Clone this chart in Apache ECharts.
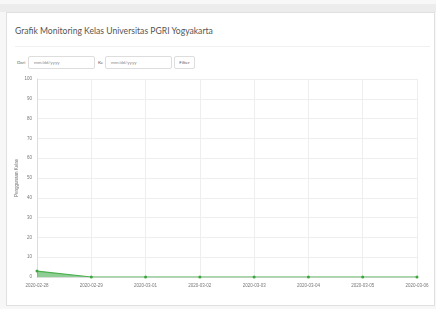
<!DOCTYPE html>
<html>
<head>
<meta charset="utf-8">
<script src="https://cdn.jsdelivr.net/npm/echarts@6/dist/echarts.min.js"></script>
<style>
html,body{margin:0;padding:0;width:436px;height:309px;overflow:hidden;background:#f7f7f7;font-family:Lato,"Open Sans",sans-serif;}
#top{position:absolute;left:0;top:4px;width:436px;height:8px;background:#ececec;}
#card{position:absolute;left:6px;top:12px;width:429px;height:294px;background:#fff;border:1px solid #e0e0e0;box-sizing:border-box;}
#title{position:absolute;left:15px;top:26px;font-size:8.6px;color:#555;white-space:nowrap;}
#sep{position:absolute;left:15px;top:46px;width:415px;height:1px;background:#f0f0f0;}
.lbl{position:absolute;font-size:4.5px;color:#666;top:60px;}
.inp{position:absolute;top:56px;height:13px;border:1px solid #ddd;box-sizing:border-box;border-radius:2px;font-size:4.5px;color:#888;padding-left:5px;line-height:11px;background:#fff;}
.btn{position:absolute;top:56px;height:13px;border:1px solid #ddd;box-sizing:border-box;border-radius:2px;font-size:4.5px;color:#555;line-height:11px;text-align:center;background:#fff;}
#chart{position:absolute;left:0;top:0;width:436px;height:309px;}
</style>
</head>
<body>
<div id="top"></div>
<div id="card"></div>
<div id="title">Grafik Monitoring Kelas Universitas PGRI Yogyakarta</div>
<div id="sep"></div>
<div class="lbl" style="left:17px;">Dari</div>
<div class="inp" style="left:28px;width:67px;">mm/dd/yyyy</div>
<div class="lbl" style="left:98px;">Ke</div>
<div class="inp" style="left:105px;width:67px;">mm/dd/yyyy</div>
<div class="btn" style="left:174px;width:21px;">Filter</div>
<div id="chart"></div>
<script>
var categories = ["2020-02-28","2020-02-29","2020-03-01","2020-03-02","2020-03-03","2020-03-04","2020-03-05","2020-03-06"];
var usage = [3,0,0,0,0,0,0,0];
var yTicks = {min:0,max:100,interval:10};
var yName = "Penggunaan Kelas";

var chart = echarts.init(document.getElementById('chart'), null, {renderer:'canvas'});
chart.setOption({
  animation:false,
  backgroundColor:'transparent',
  grid:{left:37,right:19,top:79,bottom:32,containLabel:false,outerBoundsMode:'none'},
  xAxis:{
    type:'category',
    data:categories,
    boundaryGap:false,
    axisLine:{lineStyle:{color:'#ddd'}},
    axisTick:{show:false},
    axisLabel:{fontSize:4.5,color:'#777',margin:6,interval:0},
    splitLine:{show:true,lineStyle:{color:'#eee'}}
  },
  yAxis:{
    type:'value',
    min:yTicks.min,max:yTicks.max,interval:yTicks.interval,
    name:yName,
    nameLocation:'middle',
    nameGap:18,
    nameMoveOverlap:false,
    nameTextStyle:{fontSize:4.5,color:'#777'},
    axisLine:{show:true,lineStyle:{color:'#ddd'}},
    axisTick:{show:false},
    axisLabel:{fontSize:4.5,color:'#777',margin:5},
    splitLine:{lineStyle:{color:'#eee'}}
  },
  series:[{
    type:'line',
    data:usage,
    symbol:'circle',
    symbolSize:3,
    itemStyle:{color:'#3fa53f'},
    lineStyle:{color:'#4caf50',width:1.2},
    areaStyle:{color:'rgba(40,160,50,0.75)'}
  }]
});
</script>
</body>
</html>
